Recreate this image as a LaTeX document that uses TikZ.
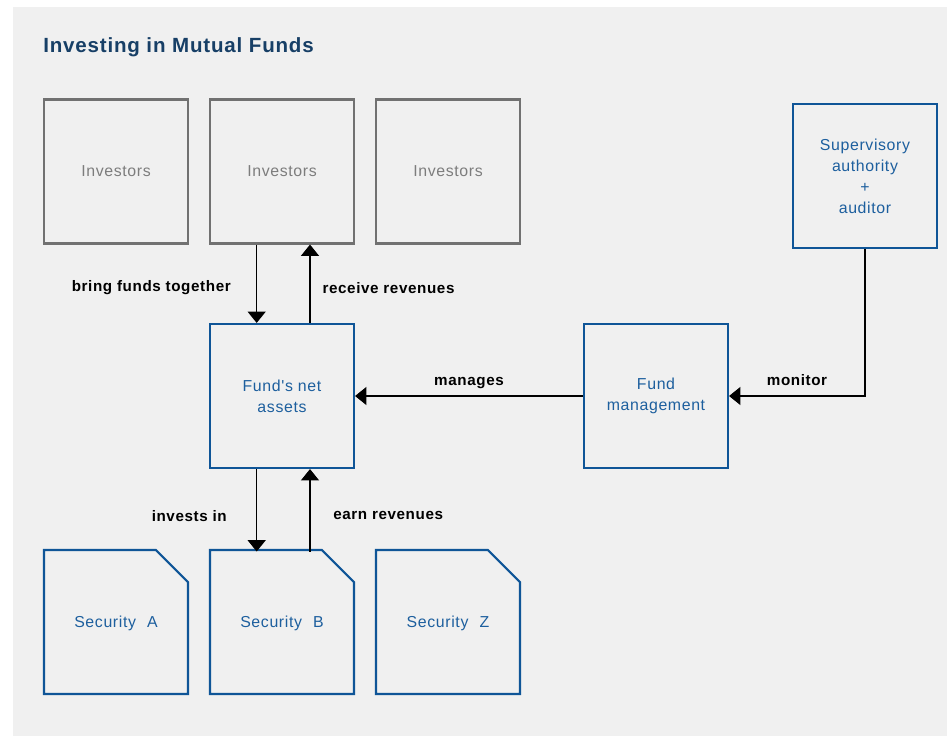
\documentclass[tikz,border=0pt]{standalone}
\usepackage{fontspec}
\setmainfont{Liberation Sans}
\newfontfamily\lblfont[LetterSpace=4]{Liberation Sans}
\usetikzlibrary{arrows.meta}
\definecolor{panel}{HTML}{F0F0F0}
\definecolor{fundblue}{HTML}{0F5597}
\definecolor{textblue}{HTML}{1D5F9E}
\definecolor{titleblue}{HTML}{173F66}
\definecolor{boxgray}{HTML}{717171}
\definecolor{txtgray}{HTML}{7D7D7D}
\begin{document}
\begin{tikzpicture}[x=0.75pt,y=-0.75pt,
    invbox/.style={draw=boxgray,line width=1.6pt,minimum width=108pt,minimum height=108pt,
        text=txtgray,font=\lblfont\fontsize{11.9pt}{15.75pt}\selectfont,align=center},
    bluebox/.style={draw=fundblue,line width=1.6pt,minimum width=108pt,minimum height=108pt,
        text=textblue,font=\lblfont\fontsize{11.9pt}{15.75pt}\selectfont,align=center},
    secbox/.style={minimum width=108pt,minimum height=108pt,outer sep=0pt,
        text=textblue,font=\lblfont\fontsize{11.9pt}{15.75pt}\selectfont},
    flow/.style={line width=0.9pt,-{Triangle[width=13.5pt,length=8.5pt]}},
    lbl/.style={inner sep=0pt,font=\lblfont\bfseries\fontsize{11.4pt}{13pt}\selectfont}]
  \useasboundingbox (0,0) rectangle (947,736);
  \fill[panel] (13,7) rectangle (947,736);

  \node[anchor=west,inner sep=0pt,text=titleblue,font=\lblfont\bfseries\fontsize{15.4pt}{18pt}\selectfont]
      (title) at (43,47.5) {Investing in Mutual Funds};

  % investors
  \node[invbox] (inv1) at (116,171.5) {Investors};
  \node[invbox] (inv2) at (282,171.5) {Investors};
  \node[invbox] (inv3) at (448,171.5) {Investors};

  \node[bluebox] (sup) at (865,176) {Supervisory\\authority\\+\\auditor};
  \node[bluebox] (fund) at (282,396) {Fund's net\\assets};
  \node[bluebox] (mgmt) at (656,396) {Fund\\management};

  % securities
  \node[secbox] (secA) at (116,623.5) {Security\hspace{0.7em}A};
  \node[secbox] (secB) at (282,623.5) {Security\hspace{0.7em}B};
  \node[secbox] (secZ) at (448,623.5) {Security\hspace{0.7em}Z};
  \foreach \s in {secA,secB,secZ}
    \draw[fundblue,line width=1.6pt,line join=miter]
      ([yshift=1.1pt]\s.north west) -- ([xshift=-24pt,yshift=1.1pt]\s.north east)
      -- ([yshift=-22.9pt]\s.north east) -- ([yshift=1.1pt]\s.south east)
      -- ([yshift=1.1pt]\s.south west) -- cycle;

  % flows
  \draw[flow] ([xshift=-19pt]inv2.south) -- ([xshift=-19pt]fund.north)
      node[lbl,midway,left=19pt,yshift=-3pt] {bring funds together};
  \draw[flow] ([xshift=21pt]fund.north) -- ([xshift=21pt]inv2.south)
      node[lbl,midway,right=9pt,yshift=-3pt] {receive revenues};
  \draw[flow] ([xshift=-19pt]fund.south) -- ([xshift=-19pt]secB.north)
      node[lbl,midway,left=22pt,yshift=-4pt] {invests in};
  \draw[flow] ([xshift=21pt]secB.north) -- ([xshift=21pt]fund.south)
      node[lbl,midway,right=17pt,yshift=-4pt] {earn revenues};
  \draw[flow] (mgmt.west) -- (fund.east)
      node[lbl,midway,yshift=10pt] {manages};
  \draw[flow] (sup.south) |- (mgmt.east)
      node[lbl,pos=0.75,yshift=12pt] {monitor};
\end{tikzpicture}
\end{document}
